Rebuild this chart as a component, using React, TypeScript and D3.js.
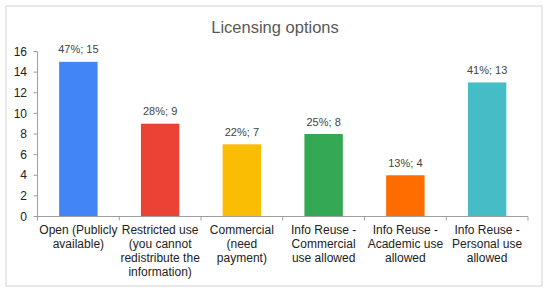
import React from 'react';
import * as d3 from 'd3';

const categories = [
  'Open (Publicly available)',
  'Restricted use (you cannot redistribute the information)',
  'Commercial (need payment)',
  'Info Reuse - Commercial use allowed',
  'Info Reuse - Academic use allowed',
  'Info Reuse - Personal use allowed',
];
const labelLines = [
  ['Open (Publicly', 'available)'],
  ['Restricted use', '(you cannot', 'redistribute the', 'information)'],
  ['Commercial', '(need', 'payment)'],
  ['Info Reuse -', 'Commercial', 'use allowed'],
  ['Info Reuse -', 'Academic use', 'allowed'],
  ['Info Reuse -', 'Personal use', 'allowed'],
];
const counts = [15, 9, 7, 8, 4, 13];
const percents = [47, 28, 22, 25, 13, 41];
const colors = ['#4285f4', '#ea4335', '#fbbc04', '#34a853', '#ff6d01', '#46bdc6'];
const yTicks = [0, 2, 4, 6, 8, 10, 12, 14, 16];

const W = 550;
const H = 293;
const font = '"Liberation Sans", Arial, sans-serif';

export default function App() {
  const left = 37.5;
  const right = 528;
  const top = 51.5;
  const bottom = 216.5;

  const x = d3.scaleBand<string>()
    .domain(categories)
    .range([left, right])
    .paddingInner(0.53)
    .paddingOuter(0.265);
  const y = d3.scaleLinear().domain([0, 16]).range([bottom, top]);
  const step = x.step();
  const boundaries = d3.range(categories.length + 1).map((i) => left + i * step);

  return (
    <svg width={W} height={H} style={{ position: 'absolute', left: 0, top: 0 }}>
      <rect x={0} y={0} width={W} height={H} fill="#fff" />
      <rect x={6} y={6} width={536} height={280} fill="#fff" stroke="#d9d9d9" strokeWidth={1.2} />
      <text x={275} y={33} textAnchor="middle" fontFamily={font} fontSize={16.5} fill="#595959">
        Licensing options
      </text>

      {/* y axis */}
      <line x1={left} x2={left} y1={top} y2={bottom} stroke="#9e9e9e" />
      {yTicks.map((t) => (
        <g key={t}>
          <line x1={left - 4} x2={left} y1={y(t)} y2={y(t)} stroke="#9e9e9e" />
          <text x={27} y={y(t)} dy="0.35em" textAnchor="end" fontFamily={font} fontSize={12} fill="#222">
            {t}
          </text>
        </g>
      ))}

      {/* bars */}
      {categories.map((c, i) => {
        const bx = x(c) as number;
        const cx = bx + x.bandwidth() / 2;
        return (
          <g key={c}>
            <rect x={bx} y={y(counts[i])} width={x.bandwidth()} height={bottom - y(counts[i])} fill={colors[i]} />
            <text x={cx} y={y(counts[i]) - 8.5} textAnchor="middle" fontFamily={font} fontSize={11} fill="#444">
              {`${percents[i]}%; ${counts[i]}`}
            </text>
            {labelLines[i].map((ln, j) => (
              <text key={j} x={cx} y={234 + j * 14} textAnchor="middle" fontFamily={font} fontSize={12} fill="#222">
                {ln}
              </text>
            ))}
          </g>
        );
      })}

      {/* x axis */}
      <line x1={left} x2={right} y1={bottom} y2={bottom} stroke="#9e9e9e" />
      {boundaries.map((b, i) => (
        <line key={i} x1={b} x2={b} y1={bottom} y2={bottom + 4} stroke="#9e9e9e" />
      ))}
    </svg>
  );
}
